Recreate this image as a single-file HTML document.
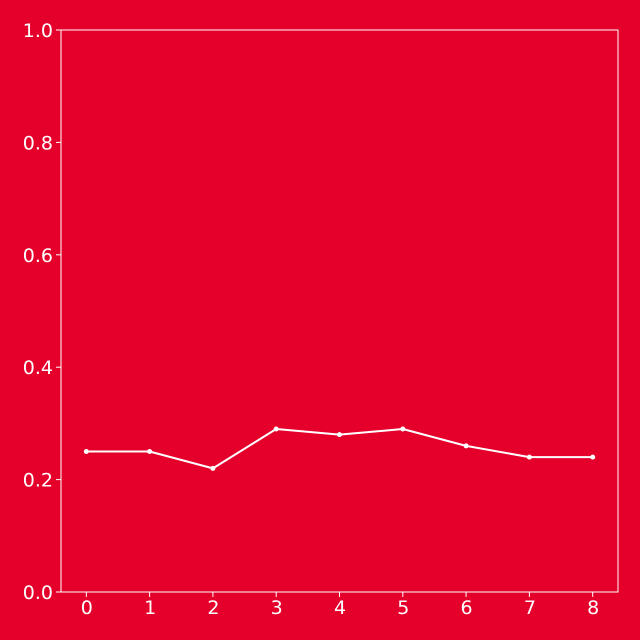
<!DOCTYPE html>
<html><head><meta charset="utf-8"><style>
html,body{margin:0;padding:0;background:#e5002b;}
svg{display:block;font-family:"DejaVu Sans","Liberation Sans",sans-serif;}
</style></head><body>
<svg id="chart" width="640" height="640">
<rect x="0" y="0" width="640" height="640" fill="#e5002b"/>
<g id="axes"></g>
<g id="series"></g>
</svg>
<script>
const categories=[0,1,2,3,4,5,6,7,8];
const values=[0.25,0.25,0.22,0.29,0.28,0.29,0.26,0.24,0.24];
const yTicks=[0,0.2,0.4,0.6,0.8,1.0];
const yTickLabels=["0.0","0.2","0.4","0.6","0.8","1.0"];
const L=61,R=618,T=30,B=592;
const xMin=-0.4,xMax=8.4;
function xs(v){return L+(v-xMin)/(xMax-xMin)*(R-L);}
function ys(v){return B-(v-0)/(1-0)*(B-T);}
const NS="http://www.w3.org/2000/svg";
const axes=document.getElementById('axes'),series=document.getElementById('series');
function mk(tag,attrs,parent){const e=document.createElementNS(NS,tag);for(const k in attrs)e.setAttribute(k,attrs[k]);parent.appendChild(e);return e;}
const frame=mk('rect',{x:L,y:T,width:R-L,height:B-T,fill:'none',stroke:'#fff','stroke-width':1},axes);


categories.forEach(c=>{
  const x=xs(c);
  const t=mk('line',{x1:x,y1:B,x2:x,y2:B+5,stroke:'#fff'},axes);
  
  
  const l=mk('text',{x:x+0.5,y:B+22,fill:'#fff','font-size':19,'text-anchor':'middle'},axes);
  l.textContent=String(c);
  
  
});
yTicks.forEach((v,i)=>{
  const y=ys(v);
  const t=mk('line',{x1:L-5,y1:y,x2:L,y2:y,stroke:'#fff'},axes);
  
  
  const l=mk('text',{x:L-8,y:y+7,fill:'#fff','font-size':19,'text-anchor':'end'},axes);
  l.textContent=yTickLabels[i];
  
  
});
const pts=categories.map((c,i)=>xs(c)+','+ys(values[i])).join(' ');
const line=mk('polyline',{points:pts,fill:'none',stroke:'#fff','stroke-width':2,'stroke-linejoin':'round'},series);


categories.forEach((c,i)=>{
  const p=mk('circle',{cx:xs(c),cy:ys(values[i]),r:2.5,fill:'#fff'},series);
  
  
});
</script>
</body></html>
